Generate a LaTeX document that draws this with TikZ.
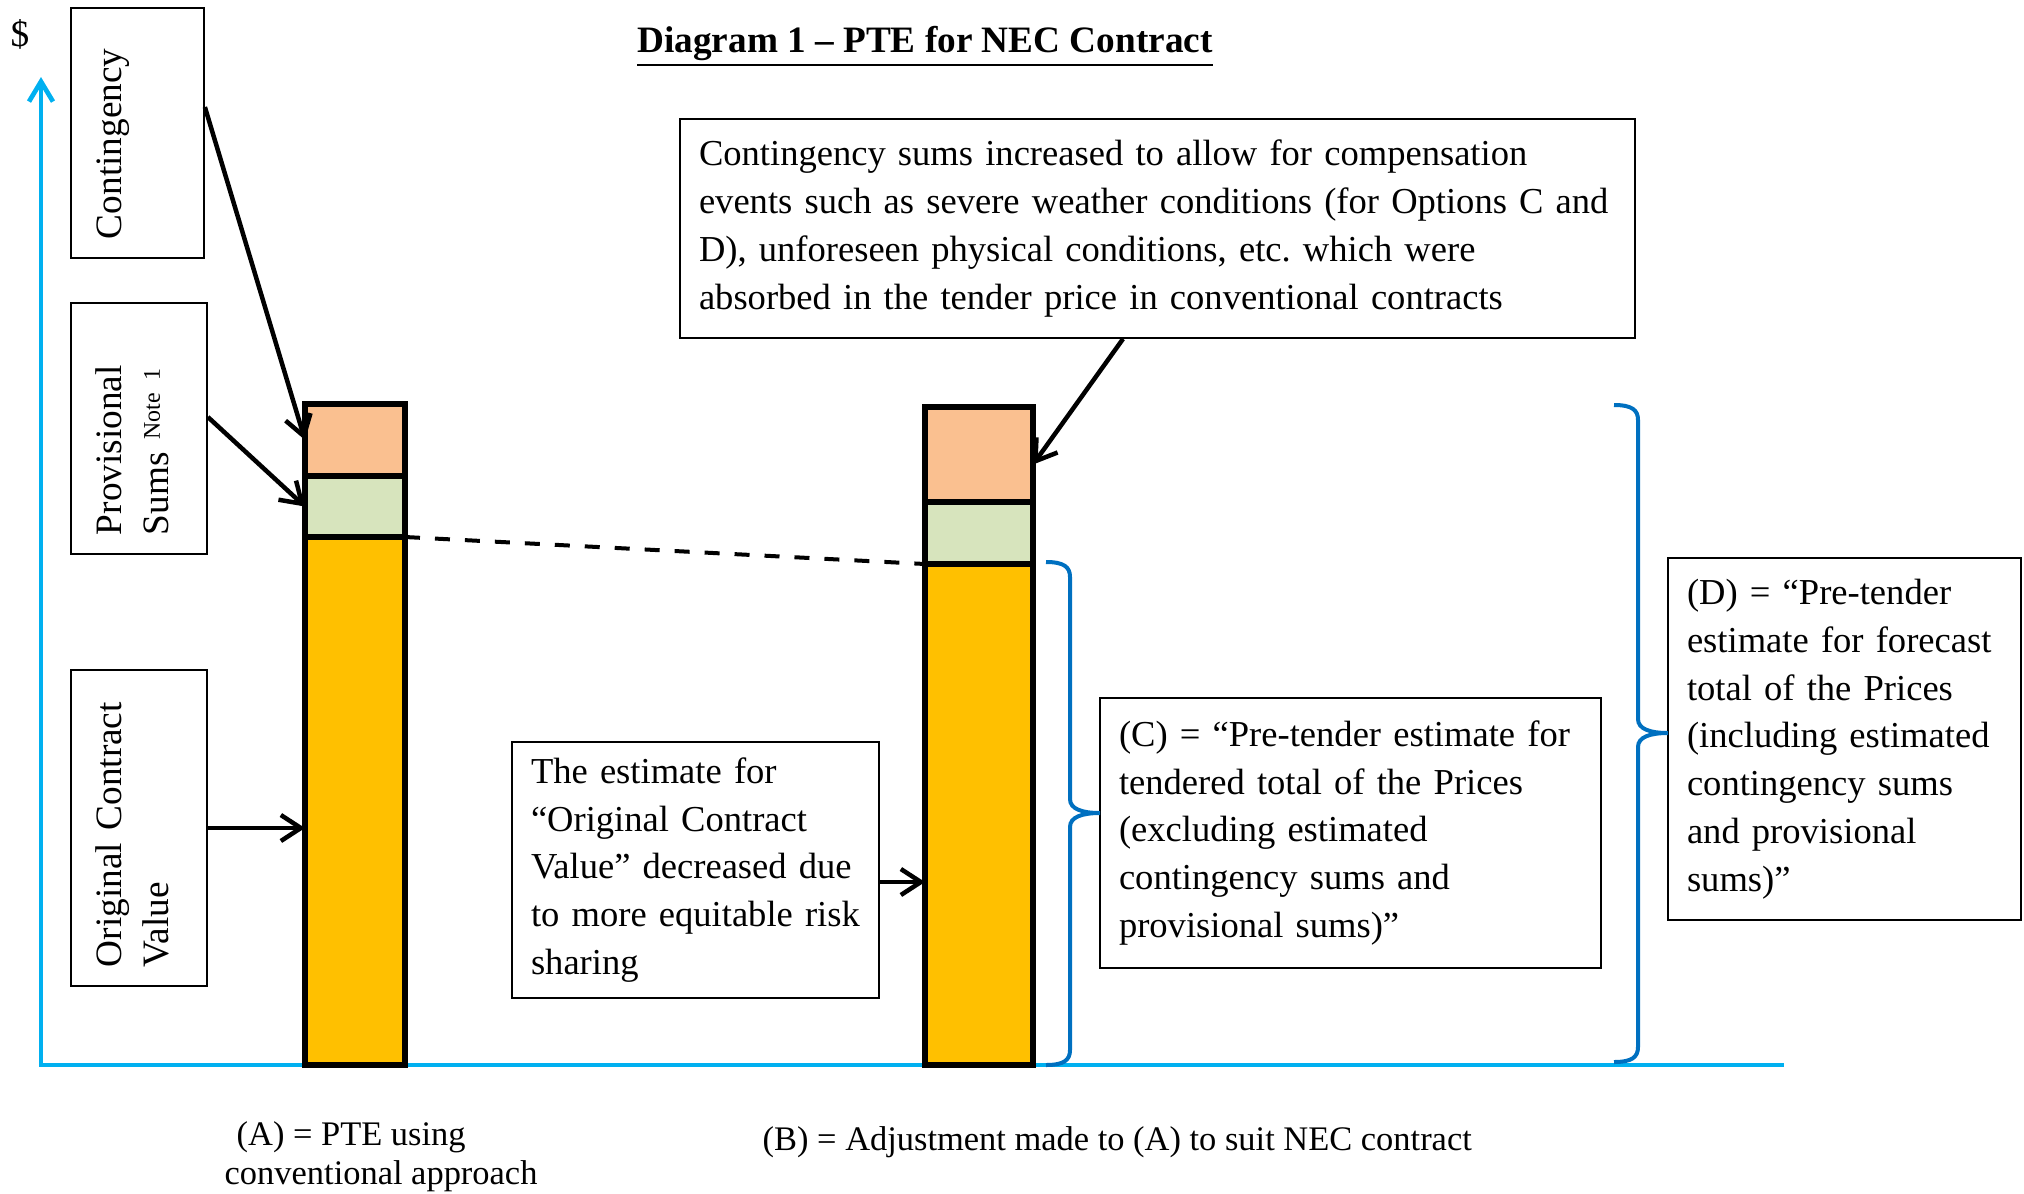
\documentclass[tikz,border=0pt]{standalone}
\usepackage{fontspec}
\setmainfont{Liberation Serif}
\usepackage{tikz}
\usetikzlibrary{positioning,arrows.meta}
\definecolor{peach}{HTML}{FAC090}
\definecolor{sage}{HTML}{D7E4BD}
\definecolor{amber}{HTML}{FFC000}
\definecolor{axisblue}{HTML}{00B0F0}
\definecolor{braceblue}{HTML}{0070C0}
\newcommand{\boxfont}{\fontsize{10.4}{13.6}\selectfont\frenchspacing}
\newcommand{\sidefont}{\fontsize{10.6}{13.6}\selectfont}
\newcommand{\capfont}{\fontsize{9.8}{11.1}\selectfont}
\tikzstyle{textbox} = [rectangle, draw, line width=0.5pt, align=left,
    inner xsep=1.9mm, inner ysep=0pt, font=\boxfont]
\tikzstyle{sidebox} = [textbox, rotate=90, font=\sidefont, text height=5mm, text depth=8.5mm]
\tikzstyle{seg} = [rectangle, draw, line width=0.55mm, outer sep=0pt, inner sep=0pt]
\tikzstyle{notelabel} = [inner sep=0pt, font=\capfont]
\tikzstyle{line} = [draw, line width=0.45mm, -{Straight Barb[length=2mm, width=2.6mm]}]
\tikzstyle{dashline} = [draw, line width=0.4mm, dash pattern=on 1.5mm off 1.5mm]
\tikzstyle{axisline} = [draw=axisblue, line width=0.47mm]
\tikzstyle{sumbrace} = [draw=braceblue, line width=0.4mm]

\begin{document}
\begin{tikzpicture}[x=0.1mm, y=-0.1mm, node distance=0pt]
    \useasboundingbox (0,0) rectangle (2024,1193);
    % Axes
    \coordinate (origin) at (41,1065);
    \coordinate (ytop) at (41,77);
    \coordinate (xend) at (1784,1065);
    \path [axisline, {Straight Barb[length=2mm, width=2.4mm]}-] (ytop) -- (origin) -- (xend);
    \node [inner sep=0pt, font=\sidefont] (dollar) at (20,34) {\$};
    \node [inner sep=0pt, font=\sidefont\bfseries, anchor=base] (title) at (925,52)
        {\underline{Diagram 1 -- PTE for NEC Contract}};
    % Place bars
    \node [seg, fill=peach, minimum width=10mm, minimum height=7.2mm] (peachA) at (355,440) {};
    \node [seg, fill=sage, minimum width=10mm, minimum height=6.1mm, below=of peachA] (sageA) {};
    \node [seg, fill=amber, minimum width=10mm, minimum height=52.8mm, below=of sageA] (amberA) {};
    \node [seg, fill=peach, minimum width=10.8mm, minimum height=9.5mm] (peachB) at (979,454.5) {};
    \node [seg, fill=sage, minimum width=10.8mm, minimum height=6.2mm, below=of peachB] (sageB) {};
    \node [seg, fill=amber, minimum width=10.8mm, minimum height=50.1mm, below=of sageB] (amberB) {};
    % Place boxes
    \node [sidebox, text width=21.2mm, text depth=8.3mm] (cont) at (137.5,133) {Contingency};
    \node [sidebox, text width=21.3mm, text depth=8.6mm] (prov) at (139,428.5)
        {Provisional\\Sums \raisebox{0.9mm}{\fontsize{6.8}{7}\selectfont Note 1}};
    \node [sidebox, text width=27.8mm, text depth=8.6mm] (orig) at (139,828)
        {Original Contract\\Value};
    \node [textbox, text width=91.7mm, minimum height=21.9mm] (callout) at (1157.5,228.5)
        {Contingency sums increased to allow for compensation\\
         events such as severe weather conditions (for Options C and\\
         D), unforeseen physical conditions, etc. which were\\
         absorbed in the tender price in conventional contracts};
    \node [textbox, text width=32.9mm, minimum height=25.6mm] (estimate) at (695.5,870)
        {The estimate for\\``Original Contract\\Value'' decreased due\\to more equitable risk\\sharing};
    \node [textbox, text width=46.3mm, minimum height=27mm] (tendered) at (1350.5,833)
        {(C) = ``Pre-tender estimate for\\tendered total of the Prices\\(excluding estimated\\
         contingency sums and\\provisional sums)''};
    \node [textbox, text width=31.5mm, minimum height=36.2mm] (forecast) at (1844.5,739)
        {(D) = ``Pre-tender\\estimate for forecast\\total of the Prices\\(including estimated\\
         contingency sums\\and provisional\\sums)''};
    \node [notelabel, align=left, anchor=base west] (labelA) at (224,1184)
        {\hspace*{1.2mm}(A) = PTE using\\conventional approach};
    \node [notelabel, anchor=base west] (labelB) at (762,1150)
        {(B) = Adjustment made to (A) to suit NEC contract};
    % Draw edges
    \coordinate (estOut) at ([yshift=-1.2mm]estimate.east);
    \path [line] ([yshift=2.6mm]cont.south) -- (peachA.west);
    \path [line] ([yshift=1.15mm]prov.south) -- (sageA.west);
    \path [line] (orig.south) -- (orig.south -| amberA.west);
    \path [line] (estOut) -- (estOut -| amberB.west);
    \path [line] ([xshift=-3.45mm]callout.south) -- ([yshift=-1mm]peachB.east);
    \path [dashline] (sageA.south east) -- (sageB.south west);
    % Braces
    \coordinate (cTop) at (1046,562);
    \coordinate (cTip) at (1100,813);
    \coordinate (cBot) at (1046,1065);
    \coordinate (dTop) at (1614,405);
    \coordinate (dTip) at (1668,733);
    \coordinate (dBot) at (1614,1062);
    \path [sumbrace] (cTop) .. controls +(18,0) and +(0,-10) .. ([shift={(24,15)}]cTop)
        -- ([shift={(-30,-14)}]cTip) .. controls +(0,10) and +(-18,0) .. (cTip)
        .. controls +(-18,0) and +(0,-10) .. ([shift={(-30,14)}]cTip)
        -- ([shift={(24,-15)}]cBot) .. controls +(0,10) and +(18,0) .. (cBot);
    \path [sumbrace] (dTop) .. controls +(18,0) and +(0,-10) .. ([shift={(24,15)}]dTop)
        -- ([shift={(-30,-14)}]dTip) .. controls +(0,10) and +(-18,0) .. (dTip)
        .. controls +(-18,0) and +(0,-10) .. ([shift={(-30,14)}]dTip)
        -- ([shift={(24,-15)}]dBot) .. controls +(0,10) and +(18,0) .. (dBot);
\end{tikzpicture}
\end{document}
